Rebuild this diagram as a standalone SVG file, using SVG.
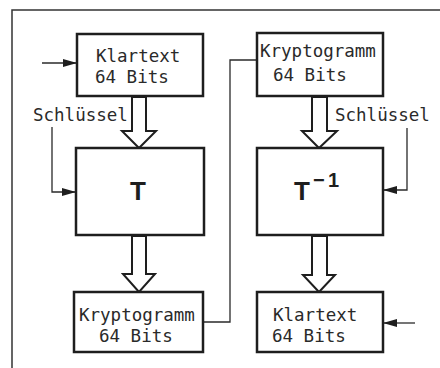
<svg xmlns="http://www.w3.org/2000/svg" width="440" height="368" viewBox="0 0 440 368">
<defs>
<marker id="ah" viewBox="0 0 14 8" refX="14" refY="4" markerWidth="14" markerHeight="8" markerUnits="userSpaceOnUse" orient="auto">
<path d="M0,0 L14,4 L0,8 Z" fill="#1e1e1e"/>
</marker>
</defs>
<style>
.box{fill:#fff;stroke:#1e1e1e;stroke-width:2.5}
.lbl{font-family:"DejaVu Sans Mono","Liberation Mono",monospace;font-size:17.5px;fill:#2a2a2a}
.big{font-family:"Liberation Sans","Arial",sans-serif;font-weight:bold;fill:#1e1e1e}
.wire{fill:none;stroke:#2a2a2a;stroke-width:1.3}
.hol{fill:#fff;stroke:#1e1e1e;stroke-width:2;stroke-linejoin:miter}
</style>
<rect width="440" height="368" fill="#fff"/>
<g id="frame"><path d="M12,368 L12,10 L440,10" fill="none" stroke="#333" stroke-width="1.5"/></g>
<g id="connectors">
<path class="wire" d="M42,63 L77,63" marker-end="url(#ah)"/>
<path class="wire" d="M52,127 L52,192 L76,192" marker-end="url(#ah)"/>
<path class="wire" d="M407,128 L407,190 L383,190" marker-end="url(#ah)"/>
<path class="wire" d="M415,323 L383,323" marker-end="url(#ah)"/>
<path class="wire" d="M203,322 L230,322 L230,60 L257,60"/>
<path class="hol" d="M132,97 L146,97 L146,131 L156,131 L139,148 L122,131 L132,131 Z"/>
<path class="hol" d="M132,236 L146,236 L146,274 L155,274 L139,292 L123,274 L132,274 Z"/>
<path class="hol" d="M312,97 L327,97 L327,131 L337,131 L319,148 L302,131 L312,131 Z"/>
<path class="hol" d="M312,236 L327,236 L327,275 L335,275 L319,292 L303,275 L312,275 Z"/>
</g>
<g id="klartext-in">
<rect class="box" x="77" y="34" width="126" height="62"/>
<text class="lbl" x="96" y="62">Klartext</text>
<text class="lbl" x="95" y="83">64 Bits</text>
</g>
<g id="schluessel-left"><text class="lbl" x="33" y="121">Schlüssel</text></g>
<g id="T">
<rect class="box" x="76" y="148" width="128" height="87"/>
<text class="big" x="138" y="200" font-size="26" text-anchor="middle">T</text>
</g>
<g id="krypto-out">
<rect class="box" x="74" y="292" width="129" height="60"/>
<text class="lbl" x="79" y="321">Kryptogramm</text>
<text class="lbl" x="99" y="342">64 Bits</text>
</g>
<g id="krypto-in">
<rect class="box" x="257" y="33" width="126" height="63"/>
<text class="lbl" x="260" y="57">Kryptogramm</text>
<text class="lbl" x="273" y="81">64 Bits</text>
</g>
<g id="schluessel-right"><text class="lbl" x="335" y="121">Schlüssel</text></g>
<g id="Tinv">
<rect class="box" x="257" y="148" width="126" height="87"/>
<text class="big" font-size="26"><tspan x="294" y="200">T</tspan><tspan x="313" y="187" font-size="20">−</tspan><tspan x="328" y="187" font-size="20">1</tspan></text>
</g>
<g id="klartext-out">
<rect class="box" x="257" y="292" width="126" height="60"/>
<text class="lbl" x="273" y="321">Klartext</text>
<text class="lbl" x="272" y="342">64 Bits</text>
</g>
</svg>
